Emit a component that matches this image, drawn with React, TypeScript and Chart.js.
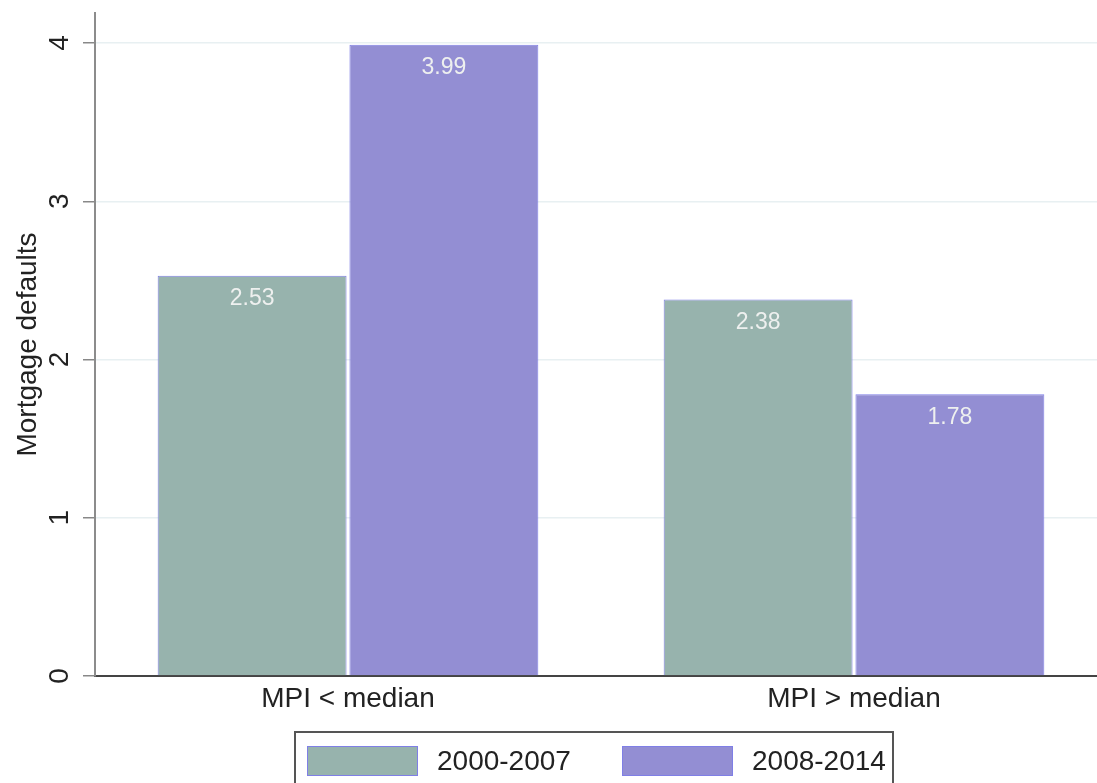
import React, { useEffect, useRef } from "react";
import { Chart, registerables } from "chart.js";

Chart.register(...registerables);

const categories = ["MPI < median", "MPI > median"];
const seriesNames = ["2000-2007", "2008-2014"];
const series2000_2007 = [2.53, 2.38];
const series2008_2014 = [3.99, 1.78];
const yTicks = [0, 1, 2, 3, 4];

const FONT = "'Liberation Sans', Arial, sans-serif";
const GREEN = "#97b3ad";
const PURPLE = "#938ed3";
const EDGE = "#7f7fe6";

const labelsPlugin = {
  id: "labelsPlugin",
  afterDatasetsDraw(chart: any) {
    const ctx = chart.ctx;
    ctx.save();
    ctx.font = `23px ${FONT}`;
    ctx.fillStyle = "#eef0ef";
    ctx.textAlign = "center";
    ctx.textBaseline = "middle";
    chart.data.datasets.forEach((ds: any, di: number) => {
      const meta = chart.getDatasetMeta(di);
      meta.data.forEach((bar: any, i: number) => {
        ctx.fillText(Number(ds.data[i]).toFixed(2), bar.x, bar.y + 23);
      });
    });
    ctx.restore();
  },
  afterDraw(chart: any) {
    const ctx = chart.ctx;
    const y = chart.scales.y;
    ctx.save();
    // rotated y tick labels
    ctx.font = `28px ${FONT}`;
    ctx.fillStyle = "#222";
    ctx.textAlign = "center";
    ctx.textBaseline = "alphabetic";
    y.ticks.forEach((t: any) => {
      const py = y.getPixelForValue(t.value);
      ctx.save();
      ctx.translate(68, py);
      ctx.rotate(-Math.PI / 2);
      ctx.fillText(String(t.value), 0, 0);
      ctx.restore();
    });
    // legend
    const boxL = 295, boxT = 732, boxR = 893;
    ctx.strokeStyle = "#555";
    ctx.lineWidth = 2;
    ctx.strokeRect(boxL, boxT, boxR - boxL, 70);
    ctx.font = `28px ${FONT}`;
    ctx.textAlign = "left";
    ctx.textBaseline = "middle";
    const swX = [307, 622];
    chart.data.datasets.forEach((ds: any, di: number) => {
      const sx = swX[di];
      ctx.fillStyle = ds.backgroundColor;
      ctx.fillRect(sx, 746, 111, 30);
      ctx.strokeStyle = EDGE;
      ctx.lineWidth = 1;
      ctx.strokeRect(sx + 0.5, 746.5, 110, 29);
      ctx.fillStyle = "#222";
      ctx.fillText(ds.label, sx + 130, 762);
    });
    ctx.restore();
  },
};

export default function App() {
  const ref = useRef<HTMLCanvasElement>(null);
  useEffect(() => {
    if (!ref.current) return;
    Chart.defaults.font.family = FONT;
    const chart = new Chart(ref.current, {
      type: "bar",
      data: {
        labels: categories,
        datasets: [
          {
            label: seriesNames[0],
            data: series2000_2007,
            backgroundColor: GREEN,
            borderColor: EDGE,
            borderWidth: 1,
            categoryPercentage: 0.758,
            barPercentage: 0.985,
          },
          {
            label: seriesNames[1],
            data: series2008_2014,
            backgroundColor: PURPLE,
            borderColor: EDGE,
            borderWidth: 1,
            categoryPercentage: 0.758,
            barPercentage: 0.985,
          },
        ],
      },
      options: {
        responsive: false,
        animation: false,
        devicePixelRatio: 1,
        layout: { padding: { top: 13, left: 0, right: 3, bottom: 66 } },
        plugins: {
          legend: { display: false },
          tooltip: { enabled: false },
        },
        scales: {
          x: {
            grid: { display: false, drawTicks: false },
            border: { display: true, color: "#444", width: 2 },
            ticks: { font: { size: 28 }, color: "#222", padding: 6 },
            afterFit: (s: any) => {
              s.height = 41;
            },
          },
          y: {
            min: 0,
            max: 4.19,
            afterBuildTicks: (s: any) => {
              s.ticks = yTicks.map((v) => ({ value: v }));
            },
            grid: {
              color: "#e8f0f2",
              lineWidth: 1.5,
              tickColor: "#888",
              tickLength: 12,
              drawTicks: true,
            },
            border: { display: true, color: "#8c8c8c", width: 2 },
            ticks: { display: false },
            title: {
              display: true,
              text: "Mortgage defaults",
              font: { size: 28 },
              color: "#222",
              padding: { top: 11, bottom: 0 },
            },
            afterFit: (s: any) => {
              s.width = 95;
            },
          },
        },
      },
      plugins: [labelsPlugin],
    });
    return () => chart.destroy();
  }, []);
  return (
    <div style={{ position: "absolute", left: 0, top: 0, width: 1097, height: 783, overflow: "hidden", background: "#fff" }}>
      <canvas ref={ref} width={1110} height={783} />
    </div>
  );
}
